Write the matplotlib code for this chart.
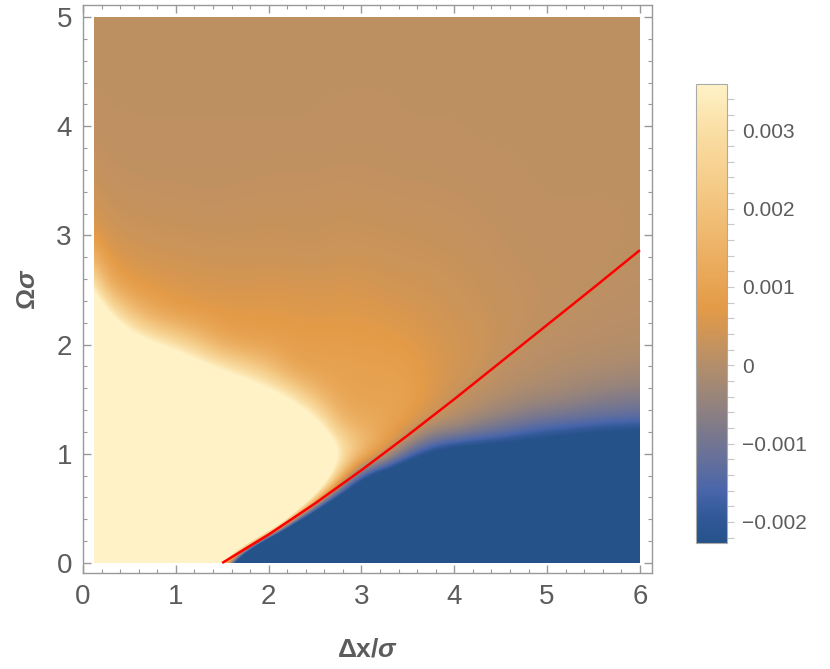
import numpy as np
import matplotlib
matplotlib.use('Agg')
import matplotlib.pyplot as plt
from matplotlib.colors import LinearSegmentedColormap, Normalize
from matplotlib.patches import Rectangle
from matplotlib.ticker import MultipleLocator, FixedLocator, FixedFormatter

# Arial-like text, bold labels with italic sigma
plt.rcParams['font.family'] = ['Liberation Sans', 'DejaVu Sans']
plt.rcParams['mathtext.fontset'] = 'custom'
plt.rcParams['mathtext.rm'] = 'Liberation Sans'
plt.rcParams['mathtext.bf'] = 'Liberation Sans:bold'
plt.rcParams['mathtext.it'] = 'Liberation Sans:italic:bold'

# ---- data ----
# grid nodes (dx/sigma across, Omega*sigma up)
dx_nodes = np.linspace(0.0, 6.0, 25)
omega_nodes = np.linspace(0.0, 5.0, 21)

# field value (units of 1e-3) at each node, one list per dx column,
# listed from Omega*sigma = 0 up to 5 (values past the colour range just saturate)
field_cols = [
    [10, 10, 10, 10, 10, 10, 10, 10, 10, 7.6, 5.1, 2.6, 0.9, 0.55, 0.36, 0.26, 0.20, 0.17, 0.15, 0.15, 0.15],  # 0.00
    [10, 10, 10, 10, 10, 10, 10, 9.1, 6.6, 4.1, 1.6, 0.7, 0.45, 0.31, 0.23, 0.19, 0.17, 0.15, 0.15, 0.15, 0.15],  # 0.25
    [10, 10, 10, 10, 10, 10, 9.8, 7.3, 4.8, 2.3, 0.85, 0.55, 0.36, 0.27, 0.21, 0.18, 0.16, 0.15, 0.15, 0.15, 0.15],  # 0.50
    [10, 10, 10, 10, 10, 10, 8.8, 6.3, 3.8, 1.3, 0.7, 0.47, 0.33, 0.25, 0.20, 0.17, 0.16, 0.15, 0.15, 0.15, 0.15],  # 0.75
    [10, 10, 10, 10, 10, 10, 8.0, 5.5, 3.0, 0.95, 0.62, 0.43, 0.31, 0.24, 0.20, 0.17, 0.16, 0.15, 0.15, 0.15, 0.15],  # 1.00
    [10.7, 30.7, 40, 10, 10, 9.6, 7.1, 4.6, 2.1, 0.82, 0.56, 0.40, 0.30, 0.23, 0.19, 0.17, 0.16, 0.15, 0.15, 0.15, 0.15],  # 1.25
    [0.3, 20.3, 40, 10, 10, 8.7, 6.2, 3.7, 1.2, 0.75, 0.54, 0.38, 0.29, 0.23, 0.19, 0.17, 0.16, 0.15, 0.15, 0.15, 0.15],  # 1.50
    [-10.1, 9.9, 29.9, 40, 10, 7.9, 5.4, 2.9, 1.0, 0.72, 0.53, 0.38, 0.30, 0.24, 0.20, 0.17, 0.16, 0.15, 0.15, 0.15, 0.15],  # 1.75
    [-20.5, -0.5, 19.5, 39.5, 9.6, 7.1, 4.6, 2.1, 0.95, 0.72, 0.56, 0.39, 0.31, 0.25, 0.21, 0.18, 0.16, 0.15, 0.15, 0.15, 0.15],  # 2.00
    [-21.6, -8.2, 5.2, 18.6, 8.4, 5.9, 3.4, 1.1, 0.88, 0.70, 0.55, 0.37, 0.30, 0.25, 0.21, 0.18, 0.16, 0.15, 0.15, 0.15, 0.15],  # 2.25
    [-18.8, -10.2, -1.58, 7.05, 6.9, 4.4, 1.9, 1.0, 0.82, 0.66, 0.52, 0.35, 0.29, 0.25, 0.21, 0.18, 0.16, 0.15, 0.15, 0.15, 0.15],  # 2.50
    [-19.8, -12.6, -5.4, 1.73, 4.0, 1.8, 1.1, 1.0, 0.85, 0.7, 0.56, 0.4, 0.33, 0.27, 0.23, 0.19, 0.17, 0.16, 0.15, 0.15, 0.15],  # 2.75
    [-17.5, -12.5, -7.5, -2.5, 2.2, 1.4, 1.0, 0.95, 0.82, 0.68, 0.54, 0.39, 0.32, 0.26, 0.22, 0.19, 0.17, 0.16, 0.15, 0.15, 0.15],  # 3.00
    [-10, -10, -10, -4, 0.8, 1.2, 1.0, 0.95, 0.8, 0.64, 0.46, 0.37, 0.30, 0.25, 0.21, 0.18, 0.17, 0.16, 0.15, 0.15, 0.15],  # 3.25
    [-10, -10, -10, -5, -1.0, 0.8, 1.0, 0.88, 0.74, 0.55, 0.44, 0.35, 0.29, 0.24, 0.20, 0.18, 0.16, 0.15, 0.15, 0.15, 0.15],  # 3.50
    [-10, -10, -10, -6.3, -2.1, 0.05, 0.65, 0.65, 0.58, 0.48, 0.40, 0.33, 0.27, 0.23, 0.20, 0.17, 0.16, 0.15, 0.15, 0.15, 0.15],  # 3.75
    [-10, -10, -10, -8, -2.69, -0.05, 0.25, 0.45, 0.45, 0.40, 0.35, 0.30, 0.25, 0.22, 0.19, 0.17, 0.16, 0.15, 0.15, 0.15, 0.15],  # 4.00
    [-10, -10, -10, -8, -2.83, -0.5, 0.1, 0.35, 0.40, 0.35, 0.30, 0.26, 0.23, 0.20, 0.18, 0.16, 0.15, 0.15, 0.15, 0.15, 0.15],  # 4.25
    [-10, -10, -10, -8, -2.96, -0.8, -0.05, 0.12, 0.28, 0.28, 0.25, 0.22, 0.20, 0.18, 0.17, 0.16, 0.15, 0.15, 0.15, 0.15, 0.15],  # 4.50
    [-10, -10, -10, -8, -3.2, -1.1, -0.2, 0.05, 0.18, 0.23, 0.22, 0.20, 0.18, 0.17, 0.16, 0.15, 0.15, 0.15, 0.15, 0.15, 0.15],  # 4.75
    [-10, -10, -10, -8, -3.5, -1.35, -0.3, -0.02, 0.1, 0.18, 0.20, 0.18, 0.17, 0.16, 0.15, 0.15, 0.15, 0.15, 0.15, 0.15, 0.15],  # 5.00
    [-10, -10, -10, -8, -3.7, -1.45, -0.4, -0.07, 0.06, 0.13, 0.17, 0.18, 0.17, 0.16, 0.15, 0.15, 0.15, 0.15, 0.15, 0.15, 0.15],  # 5.25
    [-10, -10, -10, -8, -4.1, -1.55, -0.6, -0.12, 0.04, 0.10, 0.14, 0.17, 0.17, 0.16, 0.15, 0.15, 0.15, 0.15, 0.15, 0.15, 0.15],  # 5.50
    [-10, -10, -10, -8, -4.5, -1.6, -0.7, -0.17, 0.02, 0.08, 0.12, 0.15, 0.16, 0.16, 0.15, 0.15, 0.15, 0.15, 0.15, 0.15, 0.15],  # 5.75
    [-10, -10, -10, -8, -4.7, -1.65, -0.8, -0.22, 0.0, 0.06, 0.10, 0.13, 0.15, 0.15, 0.15, 0.15, 0.15, 0.15, 0.15, 0.15, 0.15],  # 6.00
]

# red curve
line_dx = [1.5, 2.0, 2.5, 3.0, 3.5, 4.0, 4.5, 5.0, 5.5, 6.0]
line_omega = [0.0, 0.26, 0.545, 0.85, 1.17, 1.50, 1.84, 2.18, 2.52, 2.865]

# colour bar range and gradient (Mathematica default density gradient, by eye)
vmin, vmax = -0.00227, 0.00359
grad_vals = [-2.27, -1.9, -1.6, -1.2, -0.8, -0.4, 0.0, 0.4, 0.75, 1.5, 2.2, 3.0, 3.59]
grad_cols = ['#26528A', '#335A9A', '#4A66AA', '#66709A', '#7F7A8A', '#9A857A',
             '#B48E6A', '#CF9556', '#E49B47', '#EDB266', '#F4C883', '#FADEA4', '#FFF2C6']
cbar_ticks = [-0.002, -0.001, 0.0, 0.001, 0.002, 0.003]
cbar_labels = ['\u22120.002', '\u22120.001', '0', '0.001', '0.002', '0.003']

# ---- figure ----
fig = plt.figure(figsize=(8.3, 6.69), dpi=100, facecolor='white')
ax = fig.add_axes([0.1, 0.1435, 0.6855, 0.849])

pos = [(v - grad_vals[0]) / (grad_vals[-1] - grad_vals[0]) for v in grad_vals]
cmap = LinearSegmentedColormap.from_list('m10', list(zip(pos, grad_cols)))
norm = Normalize(vmin=vmin, vmax=vmax)

field = np.array(field_cols).T * 1e-3
hx = (dx_nodes[1] - dx_nodes[0]) / 2
hy = (omega_nodes[1] - omega_nodes[0]) / 2
im = ax.imshow(field, origin='lower', cmap=cmap, norm=norm, aspect='auto',
               interpolation='bicubic', interpolation_stage='data',
               extent=[dx_nodes[0] - hx, dx_nodes[-1] + hx,
                       omega_nodes[0] - hy, omega_nodes[-1] + hy])
# plotted region only
im.set_clip_path(Rectangle((0.12, 0.0), 5.88, 5.0, transform=ax.transData))

ax.plot(line_dx, line_omega, color='#FF0000', lw=1.8, solid_capstyle='butt')

ax.set_xlim(0, 6.13)
ax.set_ylim(-0.092, 5.11)

frame_col = '#999999'
for s in ax.spines.values():
    s.set_color(frame_col)
    s.set_linewidth(1.0)
ax.xaxis.set_major_locator(MultipleLocator(1))
ax.xaxis.set_minor_locator(MultipleLocator(0.2))
ax.yaxis.set_major_locator(MultipleLocator(1))
ax.yaxis.set_minor_locator(MultipleLocator(0.2))
ax.tick_params(which='both', direction='in', top=True, right=True,
               color=frame_col, labelcolor='#5c5c5c', labelsize=20)
ax.tick_params(which='major', length=6, width=1.0)
ax.tick_params(which='minor', length=3, width=0.8)
ax.tick_params(axis='x', pad=8)
ax.tick_params(axis='y', pad=8)

ax.set_xlabel(r'$\mathbf{\Delta x/}\mathit{\sigma}$', fontsize=19, color='#5c5c5c', labelpad=20)
ax.set_ylabel(r'$\mathbf{\Omega}\mathit{\sigma}$', fontsize=19, color='#5c5c5c', labelpad=12)

# colour bar
cax = fig.add_axes([0.8386, 0.1883, 0.0373, 0.686])
cb = fig.colorbar(im, cax=cax)
cb.outline.set_edgecolor('#aaaaaa')
cb.outline.set_linewidth(0.8)
cax.yaxis.set_major_locator(FixedLocator(cbar_ticks))
cax.yaxis.set_major_formatter(FixedFormatter(cbar_labels))
cax.yaxis.set_minor_locator(MultipleLocator(0.0002))
cax.tick_params(which='both', direction='out', color='#c8c8c8', labelcolor='#5c5c5c',
                labelsize=15, length=5, width=0.8, pad=6)

fig.savefig('out.png', dpi=100, facecolor='white')
